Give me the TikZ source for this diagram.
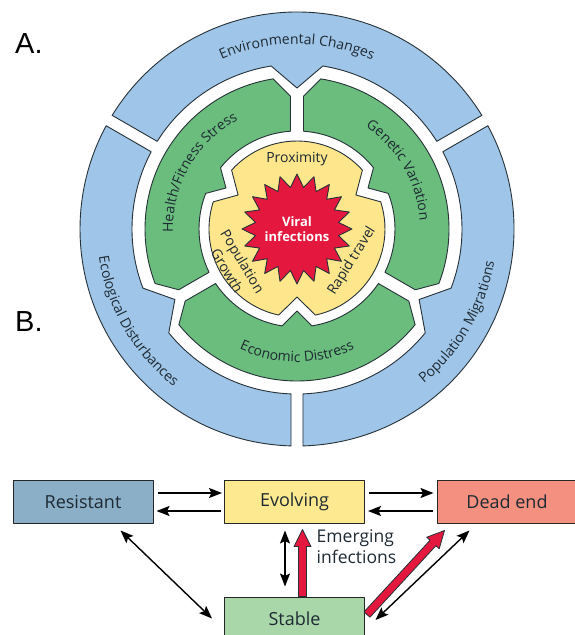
\documentclass[tikz,border=0pt]{standalone}
\usepackage{fontspec}
\setmainfont{Open Sans}
\newfontfamily\labelfont{Liberation Sans}
\usetikzlibrary{arrows.meta,calc,decorations.text}

\definecolor{ringblue}{HTML}{9FC5E8}
\definecolor{ringgreen}{HTML}{6ABD7C}
\definecolor{ringyellow}{HTML}{FDE68C}
\definecolor{virusred}{HTML}{E4173E}
\definecolor{ringline}{HTML}{263238}
\definecolor{ringink}{HTML}{1E2A33}
\definecolor{resblue}{HTML}{8BAFC7}
\definecolor{evoyellow}{HTML}{FDE98F}
\definecolor{deadred}{HTML}{F4907F}
\definecolor{stabgreen}{HTML}{A9D7A9}

\newcommand\ringfont{\fontsize{14}{14}\selectfont}

% fat outlined arrow between two named points
\newcommand\fatarrow[2]{%
  \coordinate (fah) at ($(#2)!17pt!(#1)$);
  \filldraw[fatarrow] ($(#1)!4pt!90:(#2)$) -- ($(fah)!4pt!-90:(#1)$)
    -- ($(fah)!8.5pt!-90:(#1)$) -- (#2) -- ($(fah)!8.5pt!90:(#1)$)
    -- ($(fah)!4pt!90:(#1)$) -- ($(#1)!4pt!-90:(#2)$) -- cycle;}

\begin{document}
\begin{tikzpicture}[x=1pt, y=-1pt, line join=round,
  bluering/.style={fill=ringblue, draw=ringline, line width=0.9pt},
  greenring/.style={fill=ringgreen, draw=ringline, line width=0.9pt},
  yellowring/.style={fill=ringyellow, draw=ringline, line width=0.9pt},
  virus/.style={fill=virusred, draw=ringline, line width=0.9pt},
  ringtext/.style={text=ringink, font=\fontsize{14}{18}\selectfont, inner sep=0},
  arctext/.style={decorate, decoration={text along path, text align=center,
    text color=ringink, text={|\ringfont|#1}}},
  statebox/.style={draw=black!85, line width=1pt, minimum width=140pt,
    minimum height=43pt, inner sep=0, text=ringink, font=\fontsize{18}{18}\selectfont},
  thin arrow/.style={line width=1.8pt, -{Stealth[length=13pt, width=10pt, inset=2.5pt]}},
  dbl/.style={line width=1.4pt, {Stealth[length=13pt, width=10pt, inset=2.5pt]}-{Stealth[length=13pt, width=10pt, inset=2.5pt]}},
  fatarrow/.style={fill=virusred, draw=ringline, line width=0.8pt}]

  %% ════ A. ring diagram ════
  \node[anchor=base west, inner sep=0, font=\labelfont\fontsize{29}{29}\selectfont] (labA) at (15,53) {A.};
  \node[anchor=base west, inner sep=0, font=\labelfont\fontsize{29}{29}\selectfont] (labB) at (15,331) {B.};

  \begin{scope}[shift={(297,229)}]
    % outer ring: three pieces, gaps at -150, -30, 90
    \foreach \a in {-90,30,150}
      \draw[bluering] ({\a-60+asin(6/217)}:217)
        arc[start angle={\a-60+asin(6/217)}, end angle={\a+60-asin(6/217)}, radius=217]
        -- ({\a+60-asin(6/165)}:165)
        arc[start angle={\a+60-asin(6/165)}, end angle={\a+9}, radius=165]
        -- (\a:141) -- ({\a-9}:165)
        arc[start angle={\a-9}, end angle={\a-60+asin(6/165)}, radius=165] -- cycle;

    % middle ring: three pieces, gaps at -90, 30, 150
    \foreach \a in {-150,-30,90}
      \draw[greenring] ({\a-60+asin(6.5/98)}:98) -- ({\a-60+asin(6.5/133)}:133) -- ({\a-51}:152)
        arc[start angle={\a-51}, end angle={\a+51}, radius=152]
        -- ({\a+60-asin(6.5/133)}:133) -- ({\a+60-asin(6.5/98)}:98)
        arc[start angle={\a+60-asin(6.5/98)}, end angle={\a+8.7}, radius=98]
        -- (\a:82) -- ({\a-8.7}:98)
        arc[start angle={\a-8.7}, end angle={\a-60+asin(6.5/98)}, radius=98] -- cycle;

    % inner three-lobed core
    \draw[yellowring] (-150:68) -- (-138:88) arc[start angle=-138, end angle=-42, radius=88]
      -- (-30:68) -- (-18:88) arc[start angle=-18, end angle=78, radius=88]
      -- (90:68) -- (102:88) arc[start angle=102, end angle=198, radius=88] -- cycle;

    % star
    \draw[virus] (0:55) \foreach \k in {1,...,39} {-- ({\k*9}:{55-13*mod(\k,2)})} -- cycle;
    \node[font=\bfseries\fontsize{13}{15}\selectfont, text=white, align=center] (viral) at (0,0) {Viral\\infections};

    %% ════ labels ════
    \path[arctext={Environmental Changes}] (-145:185) arc[start angle=-145, end angle=-35, radius=185];
    \path[arctext={Ecological Disturbances}] (205:200) arc[start angle=205, end angle=95, radius=200];
    \path[arctext={Population Migrations}] (85:200) arc[start angle=85, end angle=-25, radius=200];
    \path[arctext={Health/Fitness Stress}] (-205:124) arc[start angle=-205, end angle=-95, radius=124];
    \path[arctext={Genetic Variation}] (-85:123) arc[start angle=-85, end angle=25, radius=123];
    \path[arctext={Economic Distress}] (145:133) arc[start angle=145, end angle=35, radius=133];

    \node[ringtext] (prox) at (0,-70) {Proximity};
    \node[ringtext, rotate=-59, align=center] (popgrowth) at (-62,37) {Population\\Growth};
    \node[ringtext, rotate=58] (rapid) at (55,32) {Rapid travel};
  \end{scope}

  %% ════ B. state boxes ════
  \node[statebox, fill=resblue] (res) at (83,501.5) {Resistant};
  \node[statebox, fill=evoyellow] (evo) at (294.5,501.5) {Evolving};
  \node[statebox, fill=deadred] (dead) at (507,501.5) {Dead end};
  \node[statebox, fill=stabgreen] (stab) at (294.5,618.5) {Stable};

  \draw[thin arrow] ([shift={(4,-8.5)}]res.east) -- ([shift={(-2,-8.5)}]evo.west);
  \draw[thin arrow] ([shift={(-3,9.5)}]evo.west) -- ([shift={(3,9.5)}]res.east);
  \draw[thin arrow] ([shift={(4,-8.5)}]evo.east) -- ([shift={(-3,-8.5)}]dead.west);
  \draw[thin arrow] ([shift={(-4,9.5)}]dead.west) -- ([shift={(3,9.5)}]evo.east);

  \draw[dbl] ([shift={(-33,7)}]res.south east) -- ([shift={(-12,0)}]stab.west);
  \draw[dbl] ([shift={(-9.5,7)}]evo.south) -- ([shift={(-9.5,-10)}]stab.north);
  \draw[dbl] ([shift={(10.5,1.5)}]stab.east) -- ([shift={(33,7)}]dead.south west);

  \coordinate (emfoot) at ([xshift=8pt]stab.north);
  \coordinate (emtip) at ([shift={(8,6)}]evo.south);
  \coordinate (defoot) at ([shift={(2,-4)}]stab.east);
  \coordinate (detip) at ([shift={(8,7)}]dead.south west);
  \fatarrow{emfoot}{emtip}
  \fatarrow{defoot}{detip}

  \node[anchor=north west, align=left, inner sep=0, text=ringink,
    font=\fontsize{17.5}{21}\selectfont] (emerg) at ([shift={(22,6)}]evo.south) {Emerging\\infections};

  % fix the canvas
  \pgfresetboundingbox
  \path[use as bounding box] (0,0) rectangle (574,635);
\end{tikzpicture}
\end{document}
